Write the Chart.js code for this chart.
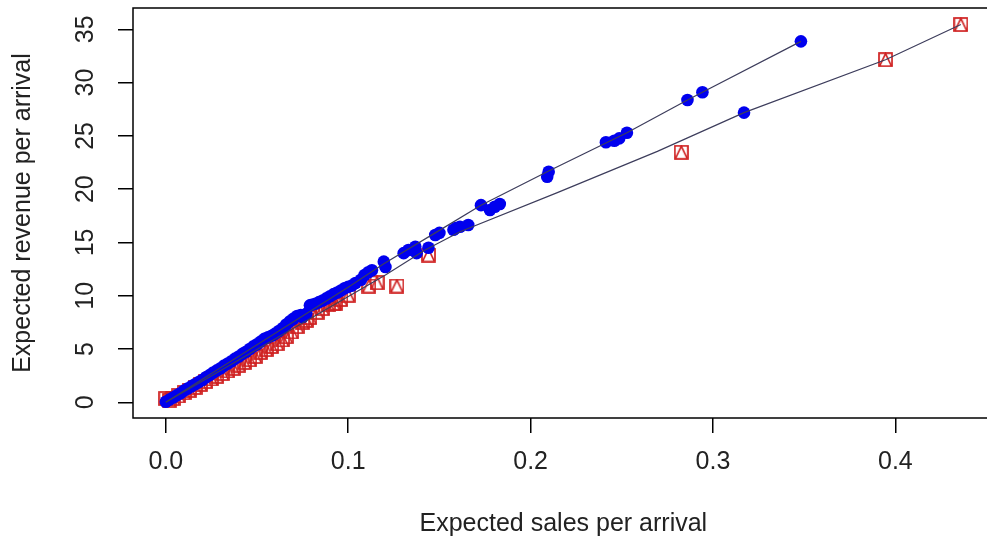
<!DOCTYPE html>
<html>
<head>
<meta charset="utf-8">
<script src="https://cdn.jsdelivr.net/npm/chart.js@4.4.1/dist/chart.umd.min.js"></script>
<style>
html, body { margin: 0; padding: 0; background: #fff; overflow: hidden; }
#wrap { position: relative; width: 1000px; height: 539px; }
</style>
</head>
<body>
<div id="wrap"><canvas id="chart"></canvas></div>
<script>
const xTicks = [0, 0.1, 0.2, 0.3, 0.4];
const yTicks = [0, 5, 10, 15, 20, 25, 30, 35];

// blue dots
const blueX = [0.000, 0.002, 0.004, 0.006, 0.008, 0.010, 0.012, 0.014, 0.016, 0.018,
    0.020, 0.022, 0.024, 0.026, 0.028, 0.030, 0.032, 0.034, 0.036, 0.038,
    0.040, 0.042, 0.044, 0.046, 0.048, 0.050, 0.052, 0.054, 0.056, 0.058,
    0.060, 0.062, 0.064, 0.066, 0.068, 0.070, 0.072, 0.074, 0.075, 0.077,
    0.079, 0.080, 0.082, 0.084, 0.086, 0.088, 0.090, 0.092, 0.094, 0.096,
    0.098, 0.100, 0.102, 0.104, 0.107, 0.109, 0.111, 0.113, 0.1195, 0.1204,
    0.1304, 0.133, 0.1368, 0.1375, 0.144, 0.1477, 0.150, 0.1577, 0.159, 0.1613,
    0.1658, 0.1728, 0.1777, 0.1804, 0.1831, 0.2091, 0.2099, 0.2413, 0.2459, 0.2486,
    0.2528, 0.286, 0.2942, 0.317, 0.3482];
const blueY = [0.05, 0.25, 0.45, 0.65, 0.85, 1.1, 1.3, 1.5, 1.7, 1.9,
    2.1, 2.35, 2.55, 2.8, 3.0, 3.2, 3.45, 3.65, 3.85, 4.1,
    4.3, 4.55, 4.75, 5.0, 5.25, 5.45, 5.7, 5.95, 6.1, 6.25,
    6.45, 6.7, 6.95, 7.3, 7.6, 7.85, 8.1, 8.2, 8.0, 8.3,
    9.1, 9.15, 9.25, 9.4, 9.55, 9.75, 9.95, 10.15, 10.3, 10.5,
    10.7, 10.85, 10.95, 11.2, 11.5, 11.95, 12.2, 12.4, 13.2, 12.7,
    14.0, 14.3, 14.6, 14.0, 14.5, 15.7, 15.9, 16.2, 16.35, 16.48,
    16.64, 18.5, 18.04, 18.35, 18.61, 21.17, 21.64, 24.4, 24.55, 24.77,
    25.3, 28.37, 29.09, 27.18, 33.87];

// red squares (pch 14)
const redX = [0.000, 0.002, 0.004, 0.007, 0.010, 0.013, 0.016, 0.019, 0.022, 0.025,
    0.028, 0.031, 0.034, 0.037, 0.040, 0.043, 0.046, 0.049, 0.052, 0.055,
    0.058, 0.061, 0.064, 0.066, 0.069, 0.072, 0.075, 0.077, 0.079, 0.083,
    0.086, 0.089, 0.092, 0.093, 0.096, 0.100, 0.1113, 0.1158, 0.1267, 0.144,
    0.2826, 0.3946, 0.4359];
const redY = [0.35, 0.2, 0.35, 0.6, 0.9, 1.15, 1.4, 1.7, 1.95, 2.2,
    2.45, 2.7, 2.95, 3.2, 3.5, 3.75, 4.0, 4.3, 4.7, 4.95,
    5.25, 5.5, 5.85, 6.15, 6.6, 7.1, 7.5, 7.7, 7.95, 8.45,
    8.8, 9.15, 9.25, 9.3, 9.65, 10.05, 10.91, 11.22, 10.91, 13.82,
    23.46, 32.15, 35.45];

// connecting lines
const upperLineX = [0, 0.1004, 0.1195, 0.1477, 0.1728, 0.2099, 0.2528, 0.286, 0.2942, 0.3482];
const upperLineY = [0, 10.85, 13.0, 15.9, 18.5, 21.7, 25.3, 28.37, 29.09, 33.87];
const lowerLineX = [0, 0.1204, 0.1422, 0.1613, 0.215, 0.2695, 0.317, 0.3946, 0.4359];
const lowerLineY = [0, 11.95, 14.3, 16.0, 19.7, 23.55, 27.18, 32.15, 35.45];

const Font_Family = '"Liberation Sans", Arial, sans-serif';
const Text_Color = '#222';

function toPoints(xs, ys) {
    return xs.map((x, i) => ({ x: x, y: ys[i] }));
}

function squareTriangle(size, color) {
    const c = document.createElement('canvas');
    c.width = size;
    c.height = size;
    const ctx = c.getContext('2d');
    ctx.strokeStyle = color;
    ctx.lineWidth = 1.7;
    ctx.strokeRect(1, 1, size - 2, size - 2);
    ctx.beginPath();
    ctx.moveTo(1.5, size - 1);
    ctx.lineTo(size / 2, 1.5);
    ctx.lineTo(size - 1.5, size - 1);
    ctx.stroke();
    return c;
}

const boxPlugin = {
    id: 'box',
    beforeDatasetsDraw(chart) {
        const { ctx, chartArea } = chart;
        ctx.save();
        ctx.strokeStyle = '#000';
        ctx.lineWidth = 1.5;
        ctx.strokeRect(chartArea.left, chartArea.top, chartArea.right - chartArea.left, chartArea.bottom - chartArea.top);
        ctx.restore();
    }
};

function noEdgePadding(scale) {
    scale.paddingTop = 0;
    scale.paddingBottom = 0;
    scale.paddingLeft = 0;
    scale.paddingRight = 0;
}

function main() {
    const redMarker = squareTriangle(15, '#cf2020');
    new Chart(document.querySelector('#chart'), {
        type: 'scatter',
        data: {
            datasets: [
                {
                    label: 'upper',
                    data: toPoints(upperLineX, upperLineY),
                    showLine: true,
                    pointRadius: 0,
                    borderColor: '#3d3d5c',
                    borderWidth: 1.2
                },
                {
                    label: 'lower',
                    data: toPoints(lowerLineX, lowerLineY),
                    showLine: true,
                    pointRadius: 0,
                    borderColor: '#3d3d5c',
                    borderWidth: 1.2
                },
                {
                    label: 'blue',
                    data: toPoints(blueX, blueY),
                    pointRadius: 6.3,
                    pointBackgroundColor: '#0000ee',
                    pointBorderColor: '#0000ee',
                    pointBorderWidth: 0
                },
                {
                    label: 'red',
                    data: toPoints(redX, redY),
                    pointStyle: redMarker
                }
            ]
        },
        options: {
            responsive: true,
            maintainAspectRatio: false,
            animation: false,
            layout: { padding: { left: 0, top: 8, right: 2, bottom: 0 } },
            plugins: {
                legend: { display: false },
                tooltip: { enabled: false }
            },
            scales: {
                x: {
                    type: 'linear',
                    min: -0.018,
                    max: 0.4539,
                    afterBuildTicks: (scale) => { scale.ticks = xTicks.map(v => ({ value: v })); },
                    afterFit: (scale) => { scale.height = 121; noEdgePadding(scale); },
                    border: { display: false },
                    grid: { drawOnChartArea: false, drawTicks: true, tickLength: 15, color: '#000', lineWidth: 1.5 },
                    ticks: {
                        padding: 14,
                        color: Text_Color,
                        font: { family: Font_Family, size: 25 },
                        maxRotation: 0,
                        callback: (value) => value.toFixed(1)
                    },
                    title: {
                        display: true,
                        text: 'Expected sales per arrival',
                        color: Text_Color,
                        font: { family: Font_Family, size: 25, lineHeight: 1.2 },
                        padding: { top: 0, bottom: 0 }
                    }
                },
                y: {
                    type: 'linear',
                    min: -1.47,
                    max: 37.0,
                    afterBuildTicks: (scale) => { scale.ticks = yTicks.map(v => ({ value: v })); },
                    afterFit: (scale) => { scale.width = 133; noEdgePadding(scale); },
                    border: { display: false },
                    grid: { drawOnChartArea: false, drawTicks: true, tickLength: 15, color: '#000', lineWidth: 1.5 },
                    ticks: {
                        padding: 18,
                        color: Text_Color,
                        font: { family: Font_Family, size: 25 },
                        minRotation: 90,
                        maxRotation: 90,
                        crossAlign: 'center',
                        callback: (value) => String(value)
                    },
                    title: {
                        display: true,
                        text: 'Expected revenue per arrival',
                        color: Text_Color,
                        font: { family: Font_Family, size: 25, lineHeight: 1.2 },
                        padding: { top: 8, bottom: 0 }
                    }
                }
            }
        },
        plugins: [boxPlugin]
    });
}
main();
</script>
</body>
</html>
